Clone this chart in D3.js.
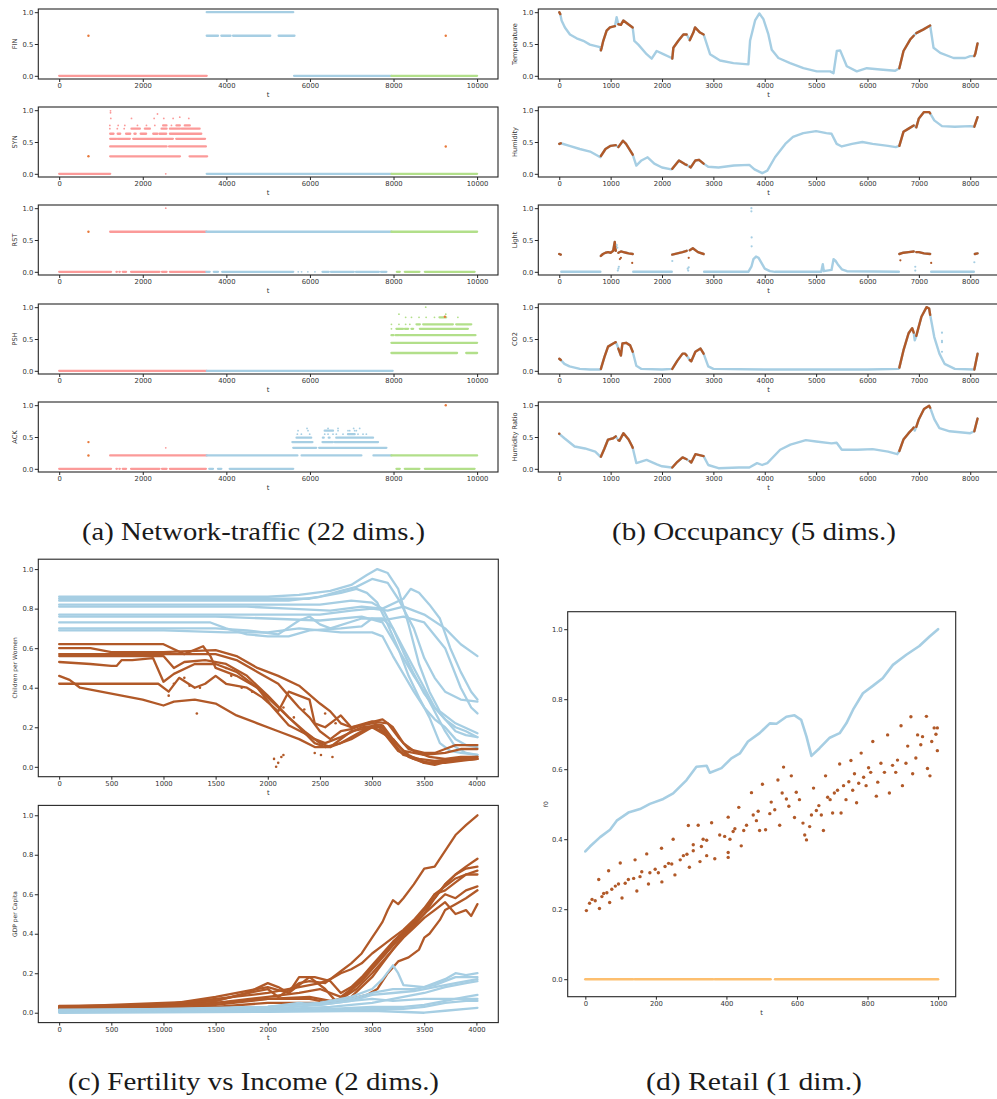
<!DOCTYPE html>
<html><head><meta charset="utf-8">
<script src="https://cdn.jsdelivr.net/npm/d3@7"></script>
<style>
html,body{margin:0;padding:0;background:#fff;}
svg{display:block;}
</style></head><body>
<svg id="fig" width="997" height="1099"></svg>
<script>
// ===================== (a) Network traffic =====================
const netFeatures = ["FIN", "SYN", "RST", "PSH", "ACK"];
const netTicksX = [0, 2000, 4000, 6000, 8000, 10000];
const halfTicks = [0, 0.5, 1.0];
// class index: 0 = first regime, 1 = second regime, 2 = third regime, 3 = anomaly
const netClassNames = ["regime A", "regime B", "regime C", "anomaly"];
// runs: [tStart, tEnd, value, class]; tStart === tEnd is a single packet
const finRuns = [
  [0,3530,0,0],
  [3530,5600,1,1],
  [3530,3800,0.63,1],[3880,4100,0.63,1],[4160,5050,0.63,1],[5250,5630,0.63,1],
  [5620,7950,0,1],
  [7950,10000,0,2],
  [700,700,0.63,3],[9250,9250,0.63,3]
];
const synRuns = [
  [0,1220,0,0],
  [1220,2890,0.275,0],[3120,3540,0.275,0],
  [1220,2570,0.43,0],[2630,3510,0.43,0],
  [1220,1370,0.55,0],[1400,1690,0.55,0],[1770,2720,0.55,0],[2800,3490,0.55,0],
  [1220,1300,0.63,0],[1400,1460,0.63,0],[1600,1700,0.63,0],[1800,1830,0.63,0],[1950,2080,0.63,0],[2250,2350,0.63,0],[2400,2560,0.63,0],[2650,3400,0.63,0],
  [1212,1212,0.71,0],[1390,1390,0.71,0],[1555,1555,0.71,0],[1730,1930,0.71,0],[2050,2170,0.71,0],[2450,2570,0.71,0],[2650,2890,0.71,0],[2930,3360,0.71,0],
  [1212,1212,0.76,0],[1411,1411,0.76,0],[1570,1570,0.76,0],[1873,1873,0.76,0],[2088,2088,0.76,0],[2288,2288,0.76,0],[2487,2567,0.76,0],[2686,2686,0.76,0],[2806,2886,0.76,0],[3005,3125,0.76,0],
  [1235,1235,0.87,0],[1730,1730,0.87,0],[2272,2272,0.87,0],[2503,2503,0.87,0],[2726,2726,0.87,0],[3101,3101,0.87,0],
  [2352,2352,0.94,0],[2885,2885,0.89,0],[1228,1228,0.99,0],[1228,1228,0.96,0],
  [2550,2550,0,0],
  [3530,7950,0,1],[7950,10000,0,2],
  [700,700,0.275,3],[9250,9250,0.43,3]
];
const rstRuns = [
  [0,1240,0,0],[1370,1380,0,0],[1440,1450,0,0],[1520,1600,0,0],[1720,2400,0,0],[2460,2570,0,0],[2650,3510,0,0],
  [1220,3520,0.63,0],[2550,2550,1.0,0],
  [3520,7950,0.63,1],
  [3520,3600,0,1],[3700,3800,0,1],[3900,5600,0,1],[5720,5720,0,1],[5800,5800,0,1],[5950,5950,0,1],[6120,6120,0,1],[6300,6450,0,1],[6500,7050,0,1],[7100,7650,0,1],[7700,7830,0,1],
  [7950,10000,0.63,2],
  [8080,8150,0,2],[8270,8620,0,2],[8750,9940,0,2],
  [700,700,0.63,3]
];
const pshRuns = [
  [0,3530,0,0],[3530,7980,0,1],
  [7950,9520,0.28,2],[9740,10000,0.28,2],
  [7950,10000,0.44,2],
  [7950,8000,0.56,2],[8050,8120,0.56,2],[8150,9960,0.56,2],
  [7950,7950,0.66,2],[8070,8230,0.66,2],[8270,8350,0.66,2],[8430,8470,0.66,2],[8630,9780,0.66,2],
  [7950,7950,0.73,2],[8130,8130,0.73,2],[8290,8290,0.73,2],[8390,8390,0.73,2],[8550,8630,0.73,2],[8710,9420,0.73,2],[9500,9860,0.73,2],
  [8290,8290,0.84,2],[8430,8430,0.84,2],[8610,8610,0.84,2],[8780,8780,0.84,2],[8980,8980,0.84,2],[9100,9260,0.84,2],[9540,9540,0.84,2],
  [8130,8130,0.89,2],[9250,9250,0.89,2],[8770,8770,1.0,2],
  [9230,9230,0.85,3]
];
const ackRuns = [
  [0,1240,0,0],[1370,1380,0,0],[1440,1450,0,0],[1520,1600,0,0],[1720,2400,0,0],[2460,2570,0,0],[2650,3510,0,0],
  [1220,3530,0.21,0],[2550,2550,0.33,0],
  [3530,5700,0.21,1],[5800,7230,0.21,1],[7520,7950,0.21,1],
  [3590,3680,0,1],[3800,3880,0,1],[4080,5600,0,1],
  [5600,6150,0.33,1],[6220,7830,0.33,1],
  [5580,6060,0.42,1],[6300,6550,0.42,1],[6590,7630,0.42,1],
  [5680,6030,0.49,1],[6310,6330,0.49,1],[6450,6470,0.49,1],[6630,7510,0.49,1],
  [5699,5699,0.545,1],[5795,5795,0.545,1],[5994,5994,0.545,1],[6353,6353,0.545,1],[6433,6433,0.545,1],[6552,6552,0.545,1],[6632,6632,0.545,1],[6791,6791,0.545,1],[6911,7070,0.545,1],[7150,7150,0.545,1],[7270,7270,0.545,1],[7350,7350,0.545,1],
  [5715,5715,0.60,1],[5954,5954,0.60,1],[6353,6552,0.60,1],[6672,6672,0.60,1],[6911,6911,0.60,1],[6951,6951,0.60,1],[7070,7070,0.60,1],[7110,7110,0.60,1],
  [5930,5930,0.635,1],[6433,6433,0.635,1],[6672,6672,0.635,1],[7046,7046,0.635,1],[7190,7190,0.635,1],
  [8070,8150,0,2],[8270,8620,0,2],[8750,9940,0,2],
  [7950,10000,0.21,2],
  [700,700,0.42,3],[700,700,0.21,3],[9250,9250,1.0,3]
];
const netRuns = [finRuns, synRuns, rstRuns, pshRuns, ackRuns];
const netColors = ["#fb9a99", "#a6cee3", "#b2df8a", "#e8793a"];

// ===================== (b) Occupancy =====================
const occFeatures = ["Temperature", "Humidity", "Light", "CO2", "Humidity Ratio"];
const occTicksX = [0, 1000, 2000, 3000, 4000, 5000, 6000, 7000, 8000];
// spans of t during which the room is occupied
const occupiedSpans = [[0,30],[810,1100],[1150,1430],[2200,2480],[2540,2810],[6620,6900],[6950,7225],[8080,8143]];
// [t, value]; null breaks the trace
const temperature = [[0,1.0],[20,0.97],[45,0.87],[110,0.76],[208,0.65],[338,0.59],[468,0.55],[597,0.49],[792,0.45],[810,0.40],[825,0.44],[857,0.55],[922,0.71],[987,0.76],[1084,0.78],[1117,0.92],[1150,0.81],[1200,0.80],[1247,0.87],[1344,0.81],[1429,0.76],[1461,0.55],[1539,0.49],[1701,0.34],[1799,0.27],[1896,0.39],[2026,0.34],[2188,0.28],[2200,0.27],[2221,0.44],[2318,0.55],[2416,0.65],[2480,0.65],[2540,0.56],[2610,0.68],[2643,0.76],[2740,0.68],[2810,0.65],[2935,0.34],[3130,0.24],[3390,0.20],[3682,0.18],[3714,0.55],[3812,0.87],[3896,0.98],[3974,0.89],[4071,0.65],[4136,0.41],[4266,0.28],[4494,0.20],[4753,0.12],[5013,0.07],[5273,0.07],[5338,0.04],[5403,0.39],[5468,0.40],[5597,0.15],[5792,0.07],[5987,0.12],[6247,0.10],[6539,0.08],[6620,0.12],[6701,0.39],[6831,0.57],[6900,0.63],[6950,0.67],[7091,0.73],[7220,0.79],[7286,0.44],[7416,0.36],[7675,0.28],[7903,0.28],[8000,0.31],[8080,0.31],[8100,0.35],[8143,0.51]];
const humidity = [[0,0.47],[30,0.48],[200,0.44],[400,0.39],[600,0.35],[800,0.26],[810,0.28],[900,0.39],[1000,0.44],[1100,0.45],[1150,0.42],[1240,0.52],[1300,0.47],[1400,0.34],[1430,0.30],[1500,0.13],[1600,0.21],[1720,0.26],[1850,0.16],[2000,0.10],[2180,0.07],[2200,0.08],[2330,0.21],[2450,0.15],[2480,0.14],[2540,0.11],[2560,0.10],[2650,0.21],[2720,0.22],[2810,0.16],[2900,0.11],[3100,0.10],[3400,0.13],[3700,0.14],[3800,0.07],[3950,0.01],[4050,0.05],[4200,0.26],[4400,0.47],[4550,0.58],[4750,0.64],[5000,0.67],[5200,0.64],[5300,0.63],[5400,0.47],[5500,0.43],[5700,0.47],[5900,0.50],[6100,0.47],[6400,0.44],[6550,0.42],[6620,0.44],[6700,0.66],[6800,0.71],[6900,0.76],[6950,0.73],[7000,0.87],[7100,0.97],[7200,0.97],[7220,0.95],[7300,0.84],[7450,0.75],[7700,0.74],[8000,0.75],[8080,0.74],[8143,0.89]];
const light = [[0,0.28],[30,0.27],null,[40,0],[800,0],null,[810,0.25],[850,0.28],[900,0.30],[950,0.31],[1000,0.30],[1050,0.33],[1080,0.47],[1100,0.33],null,[1150,0.30],[1200,0.32],[1250,0.31],[1300,0.30],[1350,0.29],[1430,0.28],null,[1440,0],[2190,0],null,[2200,0.27],[2300,0.29],[2400,0.31],[2480,0.33],null,[2540,0.34],[2600,0.37],[2700,0.31],[2810,0.28],null,[2820,0],[3680,0],[3740,0.08],[3780,0.20],[3830,0.24],[3880,0.22],[3950,0.12],[4000,0.05],[4100,0.01],[4200,0],[5100,0],[5130,0.12],[5150,0.01],[5300,0.03],[5340,0.20],[5380,0.17],[5420,0.12],[5500,0.04],[5600,0.01],[6610,0],null,[6620,0.28],[6700,0.30],[6800,0.31],[6900,0.32],null,[6950,0.31],[7000,0.31],[7100,0.29],[7220,0.28],null,[7240,0],[8070,0],null,[8090,0.28],[8143,0.29]];
const co2 = [[0,0.19],[30,0.17],[100,0.11],[200,0.07],[400,0.03],[600,0.02],[800,0.02],[810,0.03],[880,0.22],[950,0.38],[1050,0.43],[1100,0.45],[1130,0.40],[1150,0.35],[1200,0.24],[1230,0.43],[1300,0.44],[1380,0.40],[1430,0.30],[1500,0.08],[1600,0.03],[2000,0.02],[2200,0.03],[2300,0.16],[2400,0.27],[2450,0.27],[2480,0.24],[2540,0.17],[2570,0.15],[2650,0.30],[2750,0.35],[2810,0.27],[2900,0.07],[3000,0.03],[4000,0.02],[6000,0.02],[6600,0.03],[6620,0.05],[6700,0.32],[6800,0.59],[6870,0.67],[6900,0.60],[6920,0.48],[6950,0.55],[6980,0.64],[7050,0.85],[7150,1.0],[7200,0.98],[7220,0.88],[7300,0.53],[7400,0.27],[7500,0.11],[7700,0.03],[8080,0.02],[8143,0.27]];
const humidityRatio = [[0,0.55],[100,0.48],[300,0.35],[500,0.32],[700,0.27],[800,0.19],[810,0.19],[880,0.32],[950,0.46],[1050,0.48],[1100,0.51],[1150,0.45],[1170,0.44],[1250,0.56],[1350,0.46],[1420,0.35],[1430,0.33],[1500,0.09],[1700,0.14],[1900,0.07],[2000,0.04],[2190,0.02],[2200,0.02],[2300,0.11],[2400,0.18],[2480,0.15],[2540,0.12],[2570,0.10],[2650,0.23],[2810,0.20],[2900,0.06],[3100,0.01],[3500,0.02],[3700,0.02],[3850,0.09],[3950,0.06],[4050,0.09],[4300,0.30],[4500,0.38],[4800,0.45],[5000,0.43],[5300,0.40],[5400,0.41],[5500,0.30],[5800,0.30],[6100,0.31],[6400,0.27],[6580,0.23],[6620,0.28],[6700,0.46],[6800,0.56],[6880,0.63],[6900,0.65],[6920,0.60],[6950,0.66],[7000,0.78],[7100,0.94],[7200,0.99],[7220,0.96],[7300,0.78],[7400,0.64],[7600,0.59],[8000,0.56],[8080,0.59],[8143,0.79]];
const occSeries = [temperature, humidity, light, co2, humidityRatio];
// isolated readings: [t, value, occupied(1) / free(0)]
const lightDots = [[1120,0.42,0],[1130,0.38,0],[1140,0.02,0],[1150,0.05,0],[1160,0.08,0],[2200,0.17,0],[2500,0.05,0],[2510,0.02,0],[2520,0.07,0],[3740,1.0,0],[3740,0.95,0],[3745,0.54,0],[3745,0.40,0],[6930,0.08,0],[6930,0.02,0],[8080,0.15,0],[1180,0.20,1],[1200,0.22,1],[1420,0.14,1],[2520,0.22,1],[6640,0.18,1],[7240,0.14,1]];
const co2Dots = [[7450,0.60,0],[7450,0.47,0],[7450,0.45,0],[7450,0.30,0]];
const occDots = [[], [], lightDots, co2Dots, []];
const occColors = ["#a6cee3", "#b15928"];

// ===================== (c) Fertility vs Income =====================
const fertTicksX = [0, 500, 1000, 1500, 2000, 2500, 3000, 3500, 4000];
const fifthTicks = [0, 0.2, 0.4, 0.6, 0.8, 1.0];
// children per woman, low-income group
const cpwLow = [
  [[0,0.86],[2000,0.86],[2300,0.87],[2600,0.89],[2800,0.92],[2950,0.97],[3050,1.0],[3150,0.98],[3250,0.90],[3350,0.72],[3450,0.52],[3550,0.38],[3650,0.28],[3800,0.22],[4010,0.17]],
  [[0,0.84],[2200,0.84],[2500,0.86],[2700,0.89],[2850,0.91],[3000,0.95],[3150,0.93],[3250,0.85],[3400,0.70],[3500,0.55],[3600,0.45],[3700,0.38],[3850,0.34],[4010,0.33]],
  [[0,0.82],[2500,0.82],[2800,0.84],[3000,0.83],[3100,0.80],[3200,0.70],[3300,0.58],[3400,0.47],[3500,0.37],[3600,0.30],[3700,0.24],[3800,0.18],[3900,0.16],[4010,0.15]],
  [[0,0.81],[1800,0.81],[2200,0.80],[2600,0.79],[2900,0.81],[3100,0.80],[3300,0.85],[3370,0.90],[3450,0.88],[3550,0.82],[3650,0.75],[3750,0.60],[3850,0.48],[3950,0.38],[4010,0.34]],
  [[0,0.77],[2500,0.77],[2800,0.79],[3000,0.80],[3150,0.79],[3300,0.81],[3500,0.77],[3700,0.70],[3850,0.62],[4010,0.56]],
  [[0,0.76],[1500,0.76],[2000,0.75],[2500,0.74],[2900,0.76],[3100,0.73],[3200,0.64],[3300,0.55],[3400,0.46],[3500,0.38],[3600,0.28],[3700,0.18],[3800,0.10],[3900,0.07],[4010,0.06]],
  [[0,0.73],[1000,0.73],[1450,0.73],[1600,0.70],[1800,0.67],[2000,0.66],[2200,0.66],[2400,0.69],[2700,0.70],[2900,0.71],[3000,0.75],[3100,0.74],[3300,0.76],[3500,0.73],[3700,0.60],[3850,0.40],[3950,0.30],[4010,0.27]],
  [[0,0.70],[1500,0.70],[1800,0.69],[2100,0.67],[2300,0.74],[2400,0.76],[2500,0.72],[2600,0.70],[2900,0.75],[3100,0.75],[3200,0.70],[3300,0.60],[3400,0.50],[3500,0.40],[3600,0.30],[3700,0.24],[3800,0.20],[3900,0.18],[4010,0.15]],
  [[0,0.69],[1000,0.69],[1600,0.68],[2000,0.68],[2300,0.70],[2700,0.68],[3000,0.68],[3100,0.66],[3200,0.56],[3300,0.47],[3400,0.38],[3500,0.30],[3600,0.24],[3700,0.20],[3800,0.14],[3900,0.11],[4010,0.10]],
  [[0,0.85],[2400,0.85],[2700,0.88],[2850,0.90],[2950,0.88],[3050,0.83],[3150,0.72],[3250,0.60],[3350,0.46],[3450,0.35],[3550,0.25],[3650,0.12],[3750,0.08],[3850,0.07],[4010,0.06]]
];
// children per woman, high-income group
const cpwHigh = [
  [[0,0.62],[1000,0.62],[1200,0.57],[1380,0.61],[1450,0.56],[1500,0.50],[1700,0.46],[1900,0.40],[2100,0.30],[2300,0.20],[2450,0.12],[2550,0.10],[2700,0.12],[2900,0.18],[3000,0.20],[3100,0.20],[3200,0.12],[3300,0.06],[3450,0.04],[3600,0.03],[3800,0.04],[4010,0.05]],
  [[0,0.60],[300,0.60],[400,0.59],[500,0.58],[1000,0.58],[1500,0.59],[1700,0.56],[1900,0.50],[2100,0.46],[2300,0.41],[2500,0.32],[2600,0.28],[2700,0.22],[2800,0.20],[3000,0.23],[3150,0.22],[3250,0.15],[3350,0.09],[3500,0.07],[3600,0.07],[3700,0.09],[3800,0.11],[4010,0.11]],
  [[0,0.57],[1000,0.57],[1500,0.57],[1700,0.54],[1900,0.48],[2100,0.42],[2200,0.36],[2300,0.30],[2400,0.25],[2500,0.18],[2600,0.14],[2700,0.18],[2800,0.19],[2950,0.22],[3100,0.24],[3200,0.20],[3300,0.12],[3400,0.08],[3550,0.05],[3700,0.04],[3850,0.05],[4010,0.05]],
  [[0,0.56],[500,0.56],[1000,0.56],[1100,0.50],[1200,0.53],[1400,0.54],[1600,0.52],[1800,0.46],[2000,0.36],[2200,0.25],[2350,0.18],[2500,0.12],[2600,0.10],[2800,0.14],[3000,0.20],[3100,0.18],[3250,0.08],[3400,0.04],[3550,0.02],[3700,0.02],[3850,0.03],[4010,0.04]],
  [[0,0.53],[300,0.52],[500,0.51],[550,0.51],[600,0.54],[700,0.54],[900,0.55],[1000,0.43],[1100,0.47],[1300,0.52],[1500,0.52],[1700,0.48],[1900,0.40],[2050,0.30],[2200,0.21],[2350,0.17],[2450,0.14],[2550,0.12],[2700,0.15],[2900,0.20],[3050,0.21],[3200,0.13],[3350,0.06],[3500,0.02],[3600,0.01],[3750,0.03],[4010,0.04]],
  [[0,0.46],[100,0.44],[200,0.40],[400,0.38],[600,0.36],[800,0.34],[1000,0.31],[1100,0.33],[1300,0.34],[1500,0.32],[1700,0.26],[1900,0.22],[2100,0.18],[2300,0.14],[2450,0.10],[2600,0.10],[2800,0.18],[3000,0.20],[3200,0.14],[3350,0.05],[3500,0.02],[3700,0.03],[4010,0.04]],
  [[0,0.42],[950,0.42],[1050,0.38],[1150,0.45],[1300,0.40],[1400,0.42],[1500,0.46],[1600,0.42],[1800,0.40],[1950,0.35],[2100,0.28],[2200,0.38],[2300,0.36],[2400,0.34],[2450,0.22],[2550,0.20],[2650,0.24],[2700,0.26],[2800,0.20],[3000,0.22],[3100,0.21],[3200,0.14],[3300,0.08],[3500,0.06],[3700,0.07],[3850,0.09],[4010,0.09]]
];
const cpwHighLoose = [[1320,0.27],[2060,0.04],[2080,0.0],[2100,0.02],[2130,0.05],[2150,0.06],[2450,0.07],[2510,0.06],[2620,0.05],[1050,0.36],[1100,0.42],[1200,0.45],[1250,0.41],[1350,0.40],[1600,0.50],[1650,0.46],[1750,0.40],[1850,0.38],[2000,0.33],[2150,0.30],[2250,0.25],[2350,0.29],[2550,0.27],[2650,0.22]];
// GDP per capita, high-income group
const gdpHigh = [
  [[0,0.035],[1000,0.04],[1500,0.07],[2000,0.10],[2300,0.13],[2500,0.15],[2600,0.17],[2700,0.21],[2800,0.25],[2900,0.30],[3000,0.38],[3050,0.42],[3100,0.46],[3150,0.52],[3200,0.57],[3250,0.55],[3300,0.58],[3400,0.65],[3500,0.73],[3600,0.74],[3700,0.82],[3800,0.90],[3900,0.95],[4010,1.0]],
  [[0,0.03],[1000,0.04],[1500,0.08],[2000,0.13],[2200,0.10],[2300,0.18],[2450,0.18],[2600,0.16],[2700,0.10],[2800,0.13],[2900,0.18],[3000,0.24],[3100,0.30],[3200,0.36],[3300,0.41],[3400,0.46],[3500,0.52],[3600,0.58],[3700,0.65],[3800,0.70],[3900,0.74],[4010,0.78]],
  [[0,0.03],[1000,0.035],[1500,0.06],[1800,0.10],[2000,0.15],[2100,0.13],[2200,0.10],[2400,0.18],[2550,0.12],[2650,0.06],[2750,0.09],[2900,0.16],[3000,0.22],[3100,0.28],[3200,0.34],[3300,0.40],[3400,0.45],[3500,0.50],[3600,0.58],[3700,0.65],[3800,0.70],[3900,0.73],[4010,0.74]],
  [[0,0.02],[1000,0.03],[1500,0.05],[2000,0.08],[2300,0.10],[2500,0.12],[2700,0.08],[2800,0.12],[2900,0.17],[3000,0.23],[3100,0.29],[3200,0.35],[3300,0.40],[3400,0.46],[3500,0.52],[3600,0.60],[3700,0.64],[3800,0.68],[3900,0.70],[4010,0.72]],
  [[0,0.025],[1000,0.03],[1500,0.05],[2000,0.07],[2400,0.08],[2600,0.06],[2700,0.07],[2850,0.12],[3000,0.20],[3100,0.26],[3200,0.32],[3300,0.39],[3400,0.44],[3500,0.50],[3600,0.55],[3700,0.60],[3800,0.58],[3900,0.62],[4010,0.64]],
  [[0,0.02],[1500,0.04],[2000,0.07],[2400,0.07],[2600,0.05],[2800,0.08],[3000,0.18],[3100,0.25],[3200,0.32],[3300,0.38],[3400,0.43],[3500,0.48],[3600,0.52],[3700,0.56],[3800,0.50],[3900,0.52],[3950,0.49],[4010,0.55]],
  [[0,0.02],[1500,0.03],[2000,0.05],[2500,0.05],[2800,0.07],[2950,0.09],[3050,0.12],[3150,0.20],[3250,0.26],[3350,0.28],[3450,0.32],[3500,0.38],[3550,0.40],[3650,0.47],[3700,0.52],[3800,0.55],[3900,0.58],[4010,0.62]],
  [[0,0.03],[1500,0.06],[1900,0.11],[2000,0.12],[2100,0.08],[2300,0.15],[2400,0.16],[2550,0.15],[2600,0.17],[2700,0.20],[2800,0.22],[2900,0.25],[3000,0.30],[3100,0.34],[3200,0.38],[3300,0.42],[3400,0.47],[3500,0.53],[3600,0.60],[3700,0.62],[3800,0.66],[3900,0.70],[4010,0.70]]
];
// GDP per capita, low-income group
const gdpLow = [
  [[0,0.01],[1000,0.015],[2000,0.03],[2500,0.05],[2800,0.08],[3000,0.12],[3100,0.17],[3200,0.24],[3250,0.20],[3300,0.14],[3500,0.13],[3700,0.17],[3800,0.20],[3900,0.19],[4010,0.20]],
  [[0,0.01],[1000,0.02],[2000,0.03],[2500,0.05],[2800,0.07],[3000,0.10],[3200,0.12],[3400,0.12],[3600,0.14],[3800,0.18],[4010,0.18]],
  [[0,0.01],[2000,0.02],[2500,0.04],[2800,0.06],[3000,0.09],[3200,0.10],[3400,0.11],[3600,0.13],[3800,0.15],[4010,0.17]],
  [[0,0.005],[2000,0.015],[2600,0.03],[3000,0.05],[3300,0.08],[3500,0.10],[3700,0.13],[3900,0.15],[4010,0.16]],
  [[0,0.005],[2000,0.01],[2600,0.02],[3000,0.03],[3300,0.03],[3500,0.04],[3700,0.06],[3900,0.08],[4010,0.09]],
  [[0,0.005],[2000,0.01],[2600,0.015],[3000,0.02],[3300,0.02],[3500,0.03],[3700,0.05],[3900,0.06],[4010,0.06]],
  [[0,0.0],[2000,0.005],[3000,0.01],[3500,0.0],[3700,0.01],[3900,0.02],[4010,0.025]],
  [[0,0.015],[1500,0.02],[2000,0.03],[2300,0.05],[2500,0.04],[2800,0.06],[3000,0.07],[3200,0.06],[3500,0.07],[3800,0.07],[4010,0.07]]
];
const fertColors = ["#a6cee3", "#b15928"];

// ===================== (d) Retail =====================
const retailTicksX = [0, 200, 400, 600, 800, 1000];
const retailTrend = [[0,0.365],[13,0.379],[42,0.406],[70,0.427],[89,0.453],[122,0.476],[155,0.486],[183,0.501],[221,0.515],[249,0.531],[287,0.569],[315,0.607],[344,0.610],[353,0.590],[386,0.603],[414,0.631],[438,0.645],[461,0.679],[494,0.703],[523,0.731],[542,0.730],[570,0.750],[593,0.754],[612,0.741],[627,0.693],[641,0.638],[664,0.660],[693,0.690],[721,0.703],[740,0.731],[759,0.770],[787,0.817],[815,0.838],[843,0.860],[872,0.898],[910,0.927],[947,0.952],[976,0.979],[1000,1.0]];
const retailScatter = [[3,0.196],[12,0.217],[19,0.228],[28,0.224],[38,0.285],[40,0.202],[47,0.236],[52,0.245],[61,0.247],[66,0.310],[69,0.219],[75,0.257],[85,0.266],[94,0.272],[99,0.332],[104,0.232],[113,0.274],[122,0.285],[137,0.288],[141,0.341],[146,0.252],[155,0.293],[160,0.307],[174,0.358],[179,0.272],[183,0.304],[198,0.314],[207,0.304],[216,0.374],[217,0.278],[226,0.322],[236,0.331],[245,0.329],[249,0.400],[254,0.298],[269,0.341],[278,0.353],[288,0.357],[292,0.439],[295,0.320],[306,0.367],[306,0.384],[320,0.440],[325,0.336],[329,0.379],[334,0.400],[344,0.353],[344,0.397],[358,0.447],[367,0.344],[381,0.412],[395,0.408],[405,0.362],[405,0.348],[405,0.463],[410,0.400],[419,0.422],[424,0.430],[435,0.491],[442,0.381],[449,0.425],[457,0.440],[471,0.533],[476,0.469],[485,0.453],[490,0.480],[494,0.425],[502,0.557],[511,0.427],[523,0.473],[527,0.506],[537,0.484],[546,0.569],[551,0.440],[558,0.532],[562,0.606],[570,0.515],[577,0.494],[584,0.581],[593,0.462],[598,0.534],[607,0.513],[617,0.446],[622,0.412],[627,0.398],[636,0.436],[641,0.469],[647,0.546],[655,0.482],[662,0.496],[669,0.469],[675,0.425],[681,0.581],[687,0.520],[694,0.513],[701,0.475],[706,0.532],[715,0.540],[721,0.615],[725,0.475],[732,0.553],[739,0.513],[747,0.564],[753,0.625],[758,0.540],[763,0.587],[769,0.504],[775,0.560],[782,0.646],[789,0.577],[796,0.553],[803,0.604],[809,0.591],[815,0.679],[825,0.523],[829,0.563],[838,0.617],[848,0.591],[857,0.698],[862,0.532],[871,0.611],[880,0.591],[885,0.626],[895,0.724],[899,0.553],[909,0.617],[914,0.666],[923,0.750],[928,0.587],[937,0.632],[942,0.698],[951,0.670],[956,0.693],[967,0.751],[970,0.602],[977,0.581],[982,0.679],[989,0.718],[994,0.700],[998,0.718],[998,0.653]];
// spans of t where the flat component sits at 0
const retailFlat = [[0,135],[140,362],[367,525],[538,1000]];
const retailColors = ["#a6cee3", "#b15928", "#fdbf6f"];

// ===================== drawing =====================
const svg = d3.select("#fig");
const ink = "#262626";
const sans = "'DejaVu Sans', sans-serif";
const fmt1 = d3.format(".1f");

function frame(g, x, y, xTicks, yTicks, xLabel, yLabel, opt) {
  const [xl, xr] = x.range();
  const [yb, yt] = y.range();
  const gx = g.append("g").attr("transform", `translate(0,${yb})`)
    .call(d3.axisBottom(x).tickValues(xTicks).tickFormat(d3.format("d")).tickSize(3).tickPadding(1.5).tickSizeOuter(0));
  const gy = g.append("g").attr("transform", `translate(${xl},0)`)
    .call(d3.axisLeft(y).tickValues(yTicks).tickFormat(fmt1).tickSize(3.5).tickPadding(1.5).tickSizeOuter(0));
  [gx, gy].forEach(a => {
    a.select(".domain").remove();
    a.selectAll("line").attr("stroke", ink).attr("stroke-width", 1);
    a.selectAll("text").attr("fill", "#333").style("font-family", sans).style("font-size", "6.8px");
  });
  g.append("rect").attr("x", xl).attr("y", yt).attr("width", xr - xl).attr("height", yb - yt)
    .attr("fill", "none").attr("stroke", ink).attr("stroke-width", 1.1);
  g.append("text").attr("x", (xl + xr) / 2).attr("y", yb + 16).attr("text-anchor", "middle")
    .attr("dominant-baseline", "middle").attr("fill", "#333").style("font-family", sans)
    .style("font-size", "6.8px").text(xLabel);
  g.append("text").attr("transform", `translate(${opt.yLabelX},${(yt + yb) / 2}) rotate(-90)`)
    .attr("text-anchor", "middle").attr("dominant-baseline", "middle").attr("fill", "#333")
    .style("font-family", sans).style("font-size", opt.labelSize + "px").text(yLabel);
}

function caption(text, cx, baseline, width) {
  svg.append("text").attr("x", cx).attr("y", baseline).attr("text-anchor", "middle")
    .attr("fill", "#1a1a1a").style("font-family", "'Liberation Serif', 'DejaVu Serif', serif")
    .style("font-size", "25px").attr("textLength", width).attr("lengthAdjust", "spacingAndGlyphs")
    .text(text);
}

// ---- (a) ----
const netTops = [9, 107, 205, 304, 402];
const netX = d3.scaleLinear().domain([-500, 10500]).range([38.3, 498]);
netFeatures.forEach((name, i) => {
  const y = d3.scaleLinear().domain([-0.05, 1.05]).range([netTops[i] + 70, netTops[i]]);
  const g = svg.append("g");
  const marks = g.append("g");
  const runs = netRuns[i];
  // regular classes first, anomalies on top
  [0, 1, 2, 3].forEach(c => {
    runs.filter(r => r[3] === c).forEach(r => {
      if (r[0] === r[1]) {
        marks.append("circle").attr("cx", netX(r[0])).attr("cy", y(r[2]))
          .attr("r", c === 3 ? 1.2 : 0.9).attr("fill", netColors[c]);
      } else {
        marks.append("line").attr("x1", netX(r[0])).attr("x2", netX(r[1]))
          .attr("y1", y(r[2])).attr("y2", y(r[2]))
          .attr("stroke", netColors[c]).attr("stroke-width", 2.3).attr("stroke-linecap", "round");
      }
    });
  });
  frame(g, netX, y, netTicksX, halfTicks, "t", name, {yLabelX: 15, labelSize: 6.6});
});
caption("(a) Network-traffic (22 dims.)", 253.5, 540, 343);

// ---- (b) ----
const occX = d3.scaleLinear().domain([-408, 8560]).range([538.3, 999]);
const inSpan = (t, s) => t >= s[0] && t <= s[1];
occFeatures.forEach((name, i) => {
  const y = d3.scaleLinear().domain([-0.05, 1.05]).range([netTops[i] + 70, netTops[i]]);
  const g = svg.append("g");
  const line = d3.line().defined(d => d !== null).x(d => occX(d[0])).y(d => y(d[1]));
  const series = occSeries[i];
  g.append("path").attr("d", line(series)).attr("fill", "none").attr("stroke", occColors[0])
    .attr("stroke-width", 2.4).attr("stroke-linejoin", "round").attr("stroke-linecap", "round");
  // occupied stretches drawn over the free trace
  occupiedSpans.forEach(s => {
    const pieces = [];
    let cur = [];
    series.forEach(d => {
      if (d !== null && inSpan(d[0], s)) cur.push(d);
      else if (cur.length) { pieces.push(cur); cur = []; }
    });
    if (cur.length) pieces.push(cur);
    pieces.forEach(p => {
      if (p.length === 1) {
        g.append("circle").attr("cx", occX(p[0][0])).attr("cy", y(p[0][1])).attr("r", 1.3).attr("fill", occColors[1]);
      } else {
        g.append("path").attr("d", line(p)).attr("fill", "none").attr("stroke", occColors[1])
          .attr("stroke-width", 2.4).attr("stroke-linejoin", "round").attr("stroke-linecap", "round");
      }
    });
  });
  g.selectAll("circle.dot").data(occDots[i]).enter().append("circle").attr("class", "dot")
    .attr("cx", d => occX(d[0])).attr("cy", d => y(d[1])).attr("r", 1.1).attr("fill", d => occColors[d[2]]);
  frame(g, occX, y, occTicksX, halfTicks, "t", name, {yLabelX: 515, labelSize: 6.6});
});
caption("(b) Occupancy (5 dims.)", 754, 540, 284);

// ---- (c) ----
const fertX = d3.scaleLinear().domain([-200, 4210]).range([38.3, 498.3]);
function trajectories(g, y, list, color) {
  const line = d3.line().x(d => fertX(d[0])).y(d => y(d[1]));
  list.forEach(tr => g.append("path").attr("d", line(tr)).attr("fill", "none").attr("stroke", color)
    .attr("stroke-width", 2.3).attr("stroke-linejoin", "round").attr("stroke-linecap", "round"));
}
{
  const y = d3.scaleLinear().domain([-0.05, 1.05]).range([776.7, 559.2]);
  const g = svg.append("g");
  trajectories(g, y, cpwLow, fertColors[0]);
  trajectories(g, y, cpwHigh, fertColors[1]);
  g.selectAll("circle.loose").data(cpwHighLoose).enter().append("circle").attr("class", "loose")
    .attr("cx", d => fertX(d[0])).attr("cy", d => y(d[1])).attr("r", 1.3).attr("fill", fertColors[1]);
  frame(g, fertX, y, fertTicksX, fifthTicks, "t", "Children per Women", {yLabelX: 15, labelSize: 6});
}
{
  const y = d3.scaleLinear().domain([-0.05, 1.05]).range([1022.6, 805.4]);
  const g = svg.append("g");
  trajectories(g, y, gdpHigh, fertColors[1]);
  trajectories(g, y, gdpLow, fertColors[0]);
  frame(g, fertX, y, fertTicksX, fifthTicks, "t", "GDP per Capita", {yLabelX: 15, labelSize: 6});
}
caption("(c) Fertility vs Income (2 dims.)", 253.5, 1090, 371);

// ---- (d) ----
{
  const x = d3.scaleLinear().domain([-50, 1050]).range([567.7, 955.7]);
  const y = d3.scaleLinear().domain([-0.05, 1.05]).range([996.7, 611.7]);
  const g = svg.append("g");
  retailFlat.forEach(s => g.append("line").attr("x1", x(s[0])).attr("x2", x(s[1]))
    .attr("y1", y(0)).attr("y2", y(0)).attr("stroke", retailColors[2]).attr("stroke-width", 2.6)
    .attr("stroke-linecap", "round"));
  g.append("path").attr("d", d3.line().x(d => x(d[0])).y(d => y(d[1]))(retailTrend))
    .attr("fill", "none").attr("stroke", retailColors[0]).attr("stroke-width", 2.6)
    .attr("stroke-linejoin", "round").attr("stroke-linecap", "round");
  g.selectAll("circle.pt").data(retailScatter).enter().append("circle").attr("class", "pt")
    .attr("cx", d => x(d[0])).attr("cy", d => y(d[1])).attr("r", 1.7).attr("fill", retailColors[1]);
  frame(g, x, y, retailTicksX, fifthTicks, "t", "f0", {yLabelX: 546, labelSize: 6});
}
caption("(d) Retail (1 dim.)", 754, 1090, 216);
</script>
</body></html>
